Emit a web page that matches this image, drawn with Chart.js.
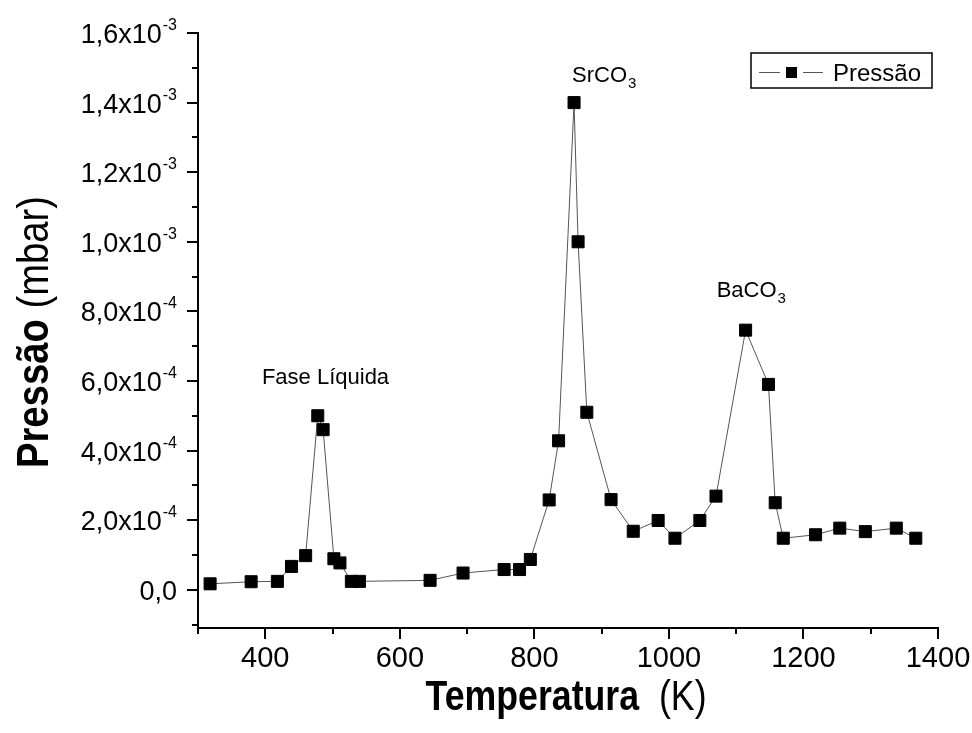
<!DOCTYPE html>
<html>
<head>
<meta charset="utf-8">
<script src="https://cdn.jsdelivr.net/npm/chart.js@4.4.0/dist/chart.umd.min.js"></script>
<style>
  body { margin: 0; background: #fff; }
  #wrap { width: 972px; height: 733px; }
</style>
</head>
<body>
<div id="wrap"><canvas id="myChart"></canvas></div>
<script>
// temperatura (K) e pressão (mbar)
const temps = [318, 379, 418, 439, 460, 478, 486, 502, 511, 528, 540, 645, 694, 755, 778, 794,
    822, 836, 859, 865, 878, 914, 947, 984, 1009, 1046, 1070, 1114, 1148, 1158, 1170, 1218,
    1254, 1292, 1338, 1367];
const pressures = [1.7e-5, 2.3e-5, 2.4e-5, 6.7e-5, 9.8e-5, 5.0e-4, 4.6e-4, 8.9e-5, 7.7e-5, 2.4e-5,
    2.4e-5, 2.7e-5, 4.8e-5, 5.8e-5, 5.8e-5, 8.7e-5, 2.58e-4, 4.28e-4, 1.4e-3, 1.0e-3, 5.1e-4,
    2.59e-4, 1.68e-4, 1.99e-4, 1.48e-4, 1.99e-4, 2.69e-4, 7.46e-4, 5.9e-4, 2.5e-4, 1.48e-4,
    1.58e-4, 1.77e-4, 1.67e-4, 1.77e-4, 1.48e-4];

const xTicks = [400, 600, 800, 1000, 1200, 1400];
const xMinorTicks = [300, 500, 700, 900, 1100, 1300];
const yTicks = [0, 2e-4, 4e-4, 6e-4, 8e-4, 1.0e-3, 1.2e-3, 1.4e-3, 1.6e-3];
const yMinorTicks = [-1e-4, 1e-4, 3e-4, 5e-4, 7e-4, 9e-4, 1.1e-3, 1.3e-3, 1.5e-3];
const yTickText = ['0,0', '2,0x10', '4,0x10', '6,0x10', '8,0x10', '1,0x10', '1,2x10', '1,4x10', '1,6x10'];
const yTickExp = ['', '-4', '-4', '-4', '-4', '-3', '-3', '-3', '-3'];

// rótulos dos picos (posição em unidades dos eixos)
const peakText = ['Fase Líquida', 'SrCO', 'BaCO'];
const peakSub = ['', '3', '3'];
const peakX = [395, 856, 1071];
const peakY = [5.91e-4, 1.46e-3, 8.41e-4];

const FONT = '"Liberation Sans", Arial, sans-serif';

const decorations = {
    id: 'decorations',
    afterDraw(chart) {
        const ctx = chart.ctx;
        const xs = chart.scales.x, ys = chart.scales.y;
        const area = chart.chartArea;
        ctx.save();
        ctx.strokeStyle = '#000';
        ctx.fillStyle = '#000';
        ctx.lineWidth = 2;

        // ticks eixo x
        ctx.beginPath();
        xTicks.forEach(v => { const p = Math.round(xs.getPixelForValue(v)); ctx.moveTo(p, area.bottom); ctx.lineTo(p, area.bottom + 11); });
        xMinorTicks.forEach(v => { const p = Math.round(xs.getPixelForValue(v)); ctx.moveTo(p, area.bottom); ctx.lineTo(p, area.bottom + 6); });
        // ticks eixo y
        yTicks.forEach(v => { const p = Math.round(ys.getPixelForValue(v)); ctx.moveTo(area.left, p); ctx.lineTo(area.left - 11, p); });
        yMinorTicks.forEach(v => { const p = Math.round(ys.getPixelForValue(v)); ctx.moveTo(area.left, p); ctx.lineTo(area.left - 6, p); });
        ctx.stroke();

        // rótulos eixo x
        ctx.font = '29px ' + FONT;
        ctx.textAlign = 'center';
        ctx.textBaseline = 'alphabetic';
        xTicks.forEach(v => ctx.fillText(String(v), xs.getPixelForValue(v), area.bottom + 39));

        // rótulos eixo y
        ctx.textAlign = 'right';
        const right = area.left - 21;
        yTicks.forEach((v, i) => {
            const p = ys.getPixelForValue(v);
            let w = 0;
            if (yTickExp[i]) {
                ctx.font = '16px ' + FONT;
                w = ctx.measureText(yTickExp[i]).width + 1;
                ctx.fillText(yTickExp[i], right, p - 3);
            }
            ctx.font = '27px ' + FONT;
            ctx.fillText(yTickText[i], right - w, p + 10);
        });

        // títulos dos eixos
        const drawTitle = (bold, normal, size, cx, cy, rot) => {
            ctx.save();
            ctx.translate(cx, cy);
            ctx.rotate(rot);
            ctx.scale(0.85, 1);
            ctx.font = 'bold ' + size + 'px ' + FONT;
            const wb = ctx.measureText(bold).width;
            ctx.font = size + 'px ' + FONT;
            const wn = ctx.measureText(normal).width;
            const x0 = -(wb + wn) / 2;
            ctx.textAlign = 'left';
            ctx.font = 'bold ' + size + 'px ' + FONT;
            ctx.fillText(bold, x0, 0);
            ctx.font = size + 'px ' + FONT;
            ctx.fillText(normal, x0 + wb, 0);
            ctx.restore();
        };
        drawTitle('Temperatura', '  (K)', 42, 566, 710, 0);
        drawTitle('Pressão', ' (mbar)', 45, 48, 332, -Math.PI / 2);

        // rótulos dos picos
        ctx.textAlign = 'left';
        peakText.forEach((t, i) => {
            const px = xs.getPixelForValue(peakX[i]);
            const py = ys.getPixelForValue(peakY[i]);
            ctx.font = '22px ' + FONT;
            ctx.fillText(t, px, py);
            if (peakSub[i]) {
                const w = ctx.measureText(t).width;
                ctx.font = '15px ' + FONT;
                ctx.fillText(peakSub[i], px + w + 1, py + 6);
            }
        });

        // legenda
        const ds = chart.data.datasets[0];
        ctx.lineWidth = 1.5;
        ctx.strokeRect(751, 53, 181, 35);
        ctx.lineWidth = 1;
        ctx.strokeStyle = ds.borderColor;
        ctx.beginPath();
        ctx.moveTo(759, 72.5); ctx.lineTo(780, 72.5);
        ctx.moveTo(803, 72.5); ctx.lineTo(823, 72.5);
        ctx.stroke();
        ctx.fillRect(786, 67, 11, 11);
        ctx.font = '24px ' + FONT;
        ctx.fillText(ds.label, 833, 81);
        ctx.restore();
    }
};

const ctx = document.getElementById('myChart').getContext('2d');
const myChart = new Chart(ctx, {
    type: 'line',
    data: {
        datasets: [{
            label: 'Pressão',
            data: temps.map((t, i) => ({ x: t, y: pressures[i] })),
            borderColor: '#555',
            borderWidth: 1,
            pointStyle: 'rect',
            pointRadius: 8.5,
            pointBackgroundColor: '#000',
            pointBorderColor: '#000',
            pointBorderWidth: 1,
            tension: 0,
            fill: false
        }]
    },
    options: {
        responsive: true,
        maintainAspectRatio: false,
        animation: false,
        layout: { padding: { left: 198, right: 34, top: 33, bottom: 105 } },
        plugins: {
            legend: { display: false },
            tooltip: { enabled: false }
        },
        scales: {
            x: {
                type: 'linear',
                min: 300,
                max: 1400,
                grid: { display: false, drawTicks: false },
                ticks: { display: false },
                border: { color: '#000', width: 2 }
            },
            y: {
                min: -1.1e-4,
                max: 1.6e-3,
                grid: { display: false, drawTicks: false },
                ticks: { display: false },
                border: { color: '#000', width: 2 }
            }
        }
    },
    plugins: [decorations]
});
</script>
</body>
</html>
